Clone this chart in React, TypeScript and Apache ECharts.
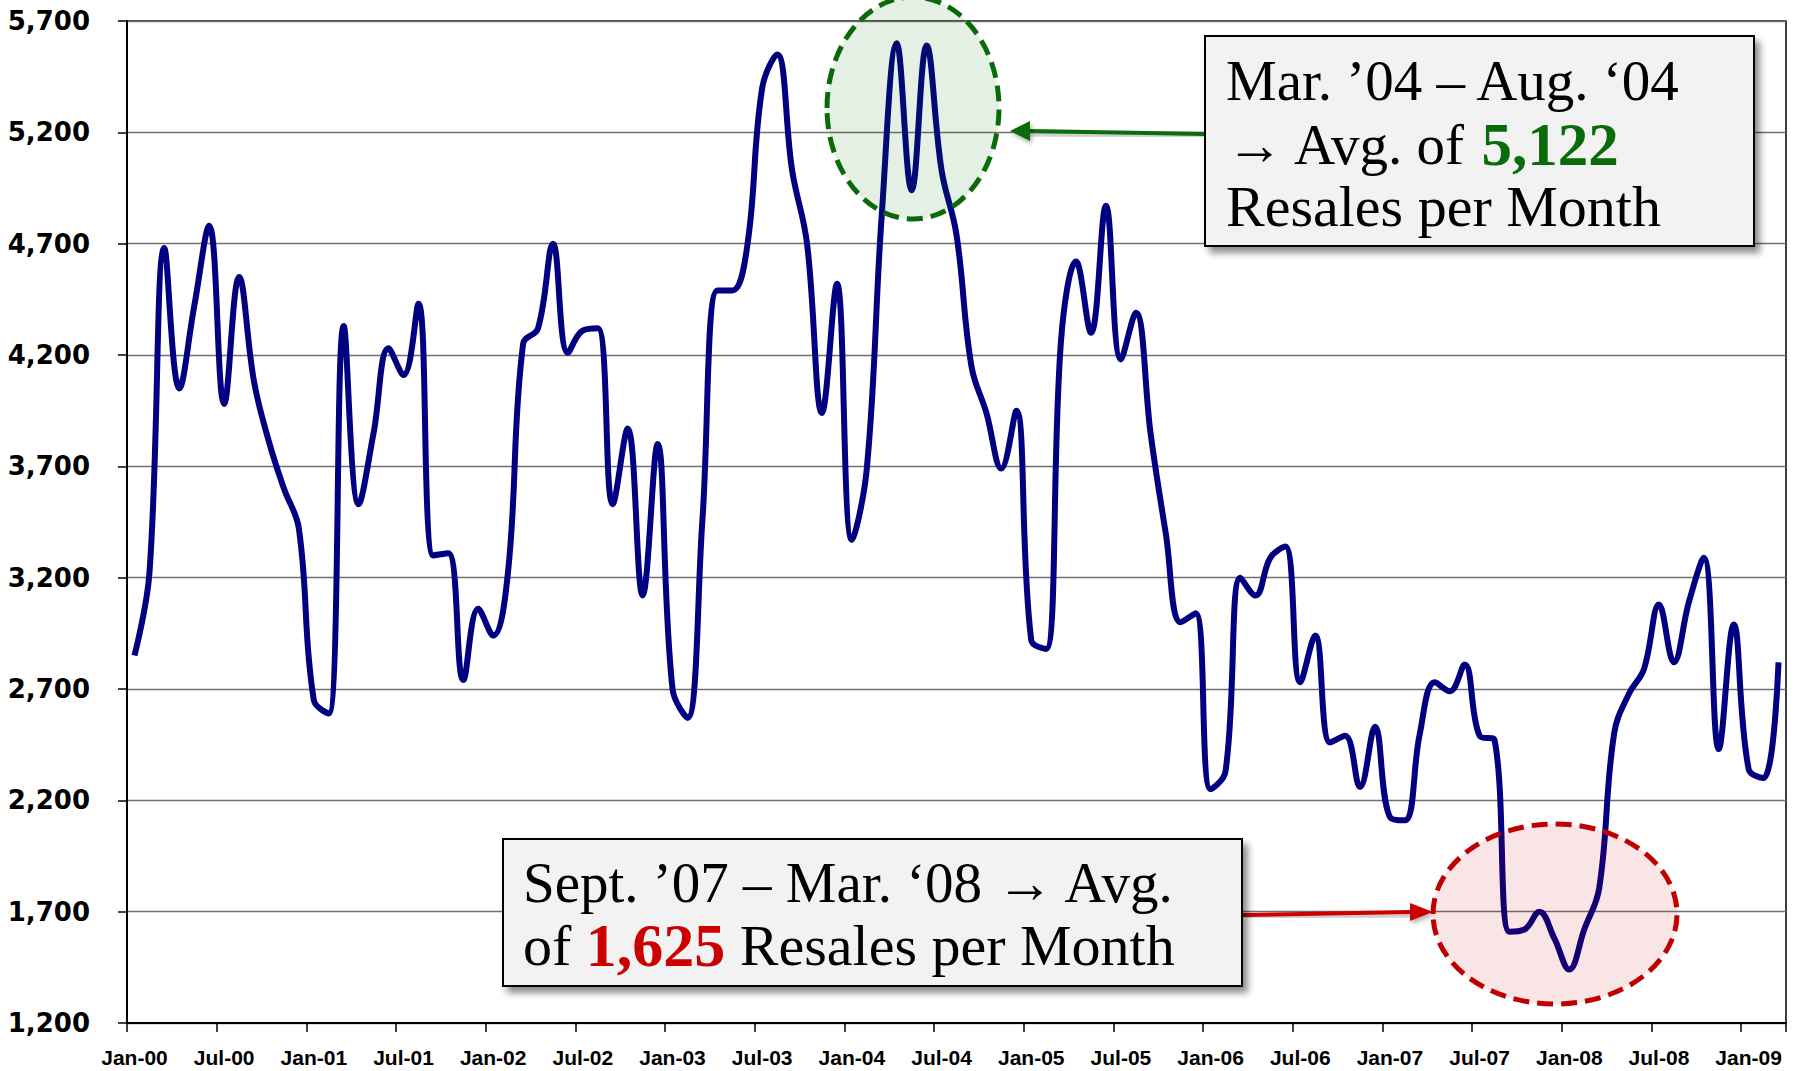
import React, { useEffect, useRef } from 'react';
import * as echarts from 'echarts';

// ---- categories (monthly, Jan-00 .. Mar-09) ----
const monthNames = ['Jan', 'Feb', 'Mar', 'Apr', 'May', 'Jun', 'Jul', 'Aug', 'Sep', 'Oct', 'Nov', 'Dec'];
const yearCodes = ['00', '01', '02', '03', '04', '05', '06', '07', '08', '09'];
const monthCount = 111;
const categories: string[] = [];
for (const yc of yearCodes) {
  for (const mn of monthNames) {
    if (categories.length < monthCount) categories.push(`${mn}-${yc}`);
  }
}

// ---- monthly resales ----
const resales2000 = [2850, 3220, 4680, 4050, 4420, 4780, 3980, 4550, 4080, 3810, 3600, 3420];
const resales2001 = [2650, 2590, 4330, 3530, 3850, 4230, 4110, 4430, 3300, 3310, 2740, 3060];
const resales2002 = [2940, 3230, 4250, 4320, 4700, 4210, 4310, 4320, 3530, 3870, 3120, 3800];
const resales2003 = [2700, 2570, 3460, 4490, 4490, 4690, 5400, 5550, 5030, 4700, 3940, 4520];
const resales2004 = [3370, 3690, 4830, 5600, 4940, 5590, 5030, 4740, 4150, 3940, 3690, 3950];
const resales2005 = [2920, 2880, 4270, 4620, 4300, 4870, 4180, 4390, 3840, 3400, 3000, 3040];
const resales2006 = [2250, 2330, 3200, 3120, 3290, 3340, 2730, 2940, 2460, 2490, 2260, 2530];
const resales2007 = [2125, 2110, 2500, 2730, 2690, 2810, 2490, 2470, 1610, 1620, 1700, 1580];
const resales2008 = [1440, 1620, 1805, 2500, 2680, 2790, 3080, 2820, 3090, 3290, 2430, 2990];
const resales2009 = [2340, 2300, 2820];

const resales = [
  ...resales2000, ...resales2001, ...resales2002, ...resales2003, ...resales2004,
  ...resales2005, ...resales2006, ...resales2007, ...resales2008, ...resales2009,
];

// ---- y-axis ticks ----
const yTicks = [1200, 1700, 2200, 2700, 3200, 3700, 4200, 4700, 5200, 5700];

// ---- annotation texts ----
const highLine1 = 'Mar. \u201904 \u2013 Aug. \u201804';
const highLine2a = '\u2192 Avg. of ';
const highValue = '5,122';
const highLine3 = 'Resales per Month';
const lowLine1 = 'Sept. \u201907 \u2013 Mar. \u201808 \u2192 Avg.';
const lowLine2a = 'of ';
const lowValue = '1,625';
const lowLine2b = ' Resales per Month';

const SERIF = '"Liberation Serif", "Times New Roman", serif';
const GREEN = '#0a6b0a';
const RED = '#cc0000';

export default function App() {
  const ref = useRef<HTMLDivElement>(null);

  useEffect(() => {
    if (!ref.current) return;
    const chart = echarts.init(ref.current, undefined, { renderer: 'svg' });

    const textBase = { fontFamily: SERIF, fontSize: 57, fill: '#000' };

    const option: any = {
      animation: false,
      backgroundColor: '#ffffff',
      grid: {
        left: 127,
        right: 8,
        top: 21,
        bottom: 48,
        show: true,
        borderColor: '#000',
        borderWidth: 1.5,
        backgroundColor: 'transparent',
        outerBoundsMode: 'none',
      },
      xAxis: {
        type: 'category',
        data: categories,
        boundaryGap: true,
        axisLine: { show: true, lineStyle: { color: '#000', width: 2 } },
        axisTick: { show: true, interval: 5, length: 9, lineStyle: { color: '#000', width: 1.5 } },
        axisLabel: {
          interval: 5,
          margin: 24,
          color: '#000',
          fontFamily: '"Liberation Sans", Arial, sans-serif',
          fontWeight: 'bold',
          fontSize: 21,
        },
        splitLine: { show: false },
      },
      yAxis: {
        type: 'value',
        min: yTicks[0],
        max: yTicks[yTicks.length - 1],
        interval: yTicks[1] - yTicks[0],
        axisLine: { show: true, lineStyle: { color: '#000', width: 2 } },
        axisTick: { show: true, length: 9, lineStyle: { color: '#000', width: 1.5 } },
        axisLabel: {
          margin: 37,
          color: '#000',
          fontFamily: '"DejaVu Sans", Verdana, sans-serif',
          fontWeight: 'bold',
          fontSize: 26,
          formatter: (v: number) => v.toLocaleString('en-US'),
        },
        splitLine: { show: true, lineStyle: { color: '#707070', width: 1.3 } },
      },
      series: [
        {
          type: 'line',
          data: resales,
          smooth: 0.4,
          symbol: 'none',
          lineStyle: { color: '#000080', width: 6 },
          z: 3,
        },
      ],
      graphic: [
        // highlight ellipses
        {
          type: 'ellipse',
          shape: { cx: 913, cy: 108, rx: 86, ry: 111 },
          style: { fill: 'rgba(0,110,0,0.1)', stroke: '#0a6a0a', lineWidth: 5, lineDash: [16, 8] },
          z: 5,
        },
        {
          type: 'ellipse',
          shape: { cx: 1555, cy: 914, rx: 122, ry: 90 },
          style: { fill: 'rgba(200,0,0,0.1)', stroke: '#c00000', lineWidth: 5, lineDash: [16, 8] },
          z: 5,
        },
        // green arrow
        {
          type: 'line',
          shape: { x1: 1205, y1: 134, x2: 1028, y2: 131 },
          style: { stroke: GREEN, lineWidth: 4, shadowBlur: 4, shadowOffsetX: 2, shadowOffsetY: 3, shadowColor: 'rgba(0,0,0,0.3)' },
          z: 9,
        },
        {
          type: 'polygon',
          shape: { points: [[1010, 131], [1030, 121], [1030, 141]] },
          style: { fill: GREEN, shadowBlur: 4, shadowOffsetX: 2, shadowOffsetY: 3, shadowColor: 'rgba(0,0,0,0.3)' },
          z: 9,
        },
        // red arrow
        {
          type: 'line',
          shape: { x1: 1243, y1: 915, x2: 1412, y2: 912 },
          style: { stroke: RED, lineWidth: 4, shadowBlur: 4, shadowOffsetX: 2, shadowOffsetY: 3, shadowColor: 'rgba(0,0,0,0.3)' },
          z: 9,
        },
        {
          type: 'polygon',
          shape: { points: [[1433, 912], [1410, 903], [1410, 921]] },
          style: { fill: RED, shadowBlur: 4, shadowOffsetX: 2, shadowOffsetY: 3, shadowColor: 'rgba(0,0,0,0.3)' },
          z: 9,
        },
        // annotation boxes
        {
          type: 'rect',
          shape: { x: 1205, y: 36, width: 549, height: 210 },
          style: {
            fill: '#f2f2f2', stroke: '#000', lineWidth: 2,
            shadowBlur: 7, shadowOffsetX: 5, shadowOffsetY: 6, shadowColor: 'rgba(0,0,0,0.45)',
          },
          z: 10,
        },
        {
          type: 'rect',
          shape: { x: 503, y: 839, width: 739, height: 147 },
          style: {
            fill: '#f2f2f2', stroke: '#000', lineWidth: 2,
            shadowBlur: 7, shadowOffsetX: 5, shadowOffsetY: 6, shadowColor: 'rgba(0,0,0,0.45)',
          },
          z: 10,
        },
        // texts - high box
        {
          type: 'text', x: 1226, y: 80, z: 11,
          style: { text: highLine1, ...textBase, align: 'left', verticalAlign: 'middle' },
        },
        {
          type: 'text', x: 1226, y: 144, z: 11,
          style: {
            text: `{n|${highLine2a}}{g|${highValue}}`,
            align: 'left', verticalAlign: 'middle',
            rich: {
              n: { ...textBase },
              g: { fontFamily: SERIF, fontSize: 61, fontWeight: 'bold', fill: GREEN },
            },
          },
        },
        {
          type: 'text', x: 1226, y: 206, z: 11,
          style: { text: highLine3, ...textBase, fontSize: 58, align: 'left', verticalAlign: 'middle' },
        },
        // texts - low box
        {
          type: 'text', x: 523, y: 882, z: 11,
          style: { text: lowLine1, ...textBase, align: 'left', verticalAlign: 'middle' },
        },
        {
          type: 'text', x: 523, y: 945, z: 11,
          style: {
            text: `{n|${lowLine2a}}{r|${lowValue}}{n|${lowLine2b}}`,
            align: 'left', verticalAlign: 'middle',
            rich: {
              n: { ...textBase, fontSize: 58 },
              r: { fontFamily: SERIF, fontSize: 62, fontWeight: 'bold', fill: RED },
            },
          },
        },
      ],
    };

    chart.setOption(option);
    return () => chart.dispose();
  }, []);

  return (
    <div
      ref={ref}
      style={{ position: 'absolute', left: 0, top: 0, width: 1794, height: 1071, background: '#fff' }}
    />
  );
}
